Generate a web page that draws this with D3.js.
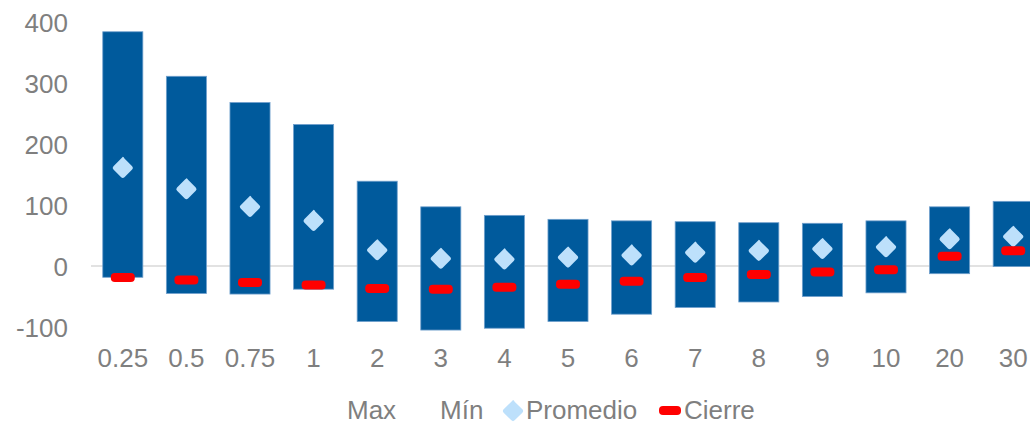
<!DOCTYPE html>
<html><head><meta charset="utf-8">
<script src="https://cdn.jsdelivr.net/npm/d3@7"></script>
<style>
html,body{margin:0;padding:0;background:#fff;}
svg{display:block;font-family:"Liberation Sans",Arial,sans-serif;}
</style></head>
<body>
<svg id="chart" width="1030" height="424"></svg>
<script>
const categories = ["0.25","0.5","0.75","1","2","3","4","5","6","7","8","9","10","20","30"];
const maxValues  = [384, 311, 268, 232, 139, 97, 83, 76.5, 74, 72.6, 71, 70, 74, 97, 106];
const minValues  = [-18.5, -45, -46, -38, -91, -105, -102, -91, -79, -68, -59, -50, -44, -12.6, -1];
const avgValues  = [161, 126, 97, 74, 26, 12, 11, 14, 17.5, 22, 25, 28, 31, 44, 48];
const closeValues= [-19, -23, -27, -31, -37, -38, -35, -30, -25, -19, -14, -10, -6, 16, 25];
const yTicks = [-100, 0, 100, 200, 300, 400];
const legendLabels = ["Max", "Mín", "Promedio", "Cierre"];

const svg = d3.select("#chart");
const textColor = "#7f7f7f";
const barColor = "#005a9c";
const diamondColor = "#bde0fb";
const closeColor = "#ff0000";

const x = d3.scaleBand().domain(categories).range([91, 1045]).paddingInner(0.37).paddingOuter(0.185);
const y = d3.scaleLinear().domain([-100, 400]).range([327, 22]);

// zero line
svg.append("line").attr("x1", 91).attr("x2", 1045).attr("y1", y(0)).attr("y2", y(0))
  .attr("stroke", "#d9d9d9").attr("stroke-width", 1.5);

// y axis
const yAxis = d3.axisLeft(y).tickValues(yTicks).tickSize(0).tickPadding(0).tickFormat(d => String(d));
const gy = svg.append("g").attr("transform", "translate(68,0)").call(yAxis);
gy.select(".domain").remove();
gy.selectAll("text").attr("fill", textColor).style("font-size", "26px")
  .style("font-family", "Liberation Sans, Arial, sans-serif").attr("dy", "0.36em").attr("x", 0);

// x axis
const xAxis = d3.axisBottom(x).tickSize(0).tickPadding(0);
const gx = svg.append("g").attr("transform", "translate(0,367)").call(xAxis);
gx.select(".domain").remove();
gx.selectAll("text").attr("fill", textColor).style("font-size", "26px")
  .style("font-family", "Liberation Sans, Arial, sans-serif").attr("dy", "0").attr("y", 0);

// bars
svg.append("g").selectAll("rect").data(categories).join("rect")
  .attr("x", (d) => x(d))
  .attr("width", x.bandwidth())
  .attr("y", (d, i) => y(maxValues[i]))
  .attr("height", (d, i) => y(minValues[i]) - y(maxValues[i]))
  .attr("fill", barColor)
  .attr("stroke", "#6f9fcc").attr("stroke-width", 0.8);

// diamonds
const dSize = 11;
const diamondPath = `M0,${-dSize} Q1,${-dSize} ${dSize*0.15},${-dSize*0.85} L${dSize*0.85},${-dSize*0.15} Q${dSize},0 ${dSize*0.85},${dSize*0.15} L${dSize*0.15},${dSize*0.85} Q0,${dSize} ${-dSize*0.15},${dSize*0.85} L${-dSize*0.85},${dSize*0.15} Q${-dSize},0 ${-dSize*0.85},${-dSize*0.15} L${-dSize*0.15},${-dSize*0.85} Q0,${-dSize} 0,${-dSize} Z`;
svg.append("g").selectAll("path").data(categories).join("path")
  .attr("d", diamondPath)
  .attr("transform", (d, i) => `translate(${x(d) + x.bandwidth()/2},${y(avgValues[i])})`)
  .attr("fill", diamondColor);

// close markers
svg.append("g").selectAll("rect").data(categories).join("rect")
  .attr("x", (d) => x(d) + x.bandwidth()/2 - 12)
  .attr("y", (d, i) => y(closeValues[i]) - 4.5)
  .attr("width", 24).attr("height", 9).attr("rx", 4).attr("ry", 4)
  .attr("fill", closeColor);

// legend
const lg = svg.append("g").style("font-size", "26px").attr("fill", textColor);
lg.append("text").attr("x", 347).attr("y", 419).text(legendLabels[0]);
lg.append("text").attr("x", 440).attr("y", 419).text(legendLabels[1]);
lg.append("path").attr("d", diamondPath).attr("transform", "translate(513,411)").attr("fill", diamondColor);
lg.append("text").attr("x", 526).attr("y", 419).text(legendLabels[2]);
lg.append("rect").attr("x", 659).attr("y", 406).attr("width", 22).attr("height", 9).attr("rx", 4).attr("fill", closeColor);
lg.append("text").attr("x", 684).attr("y", 419).text(legendLabels[3]);
</script>
</body></html>
